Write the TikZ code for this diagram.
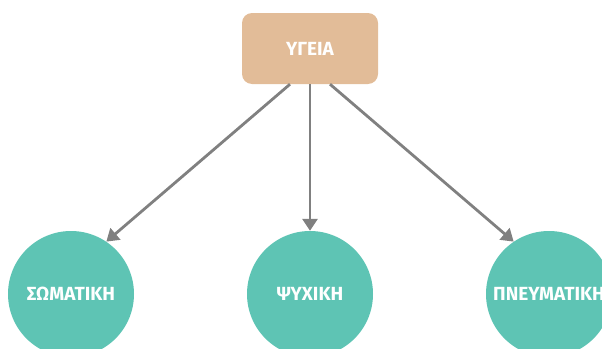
\documentclass[tikz,border=0pt]{standalone}
\usepackage{fontspec}
\setmainfont{Fira Sans}
\usetikzlibrary{arrows.meta}
\definecolor{boxtan}{HTML}{E2BC98}
\definecolor{circteal}{HTML}{5EC4B4}
\definecolor{arrowgray}{HTML}{808080}

\begin{document}
\begin{tikzpicture}[x=1pt,y=-1pt,
  topbox/.style={fill=boxtan, rounded corners=10pt, minimum width=136pt,
    minimum height=71pt, text=white, font=\bfseries\fontsize{19}{21}\selectfont},
  leaf/.style={circle, fill=circteal, minimum size=126pt, inner sep=0pt,
    text=white, font=\bfseries\fontsize{19}{21}\selectfont},
  link/.style={draw=arrowgray, line width=2.8pt,
    -{Triangle[width=15pt,length=12pt]}}]
\useasboundingbox (0,0) rectangle (602,348);
\clip (0,0) rectangle (602,348);
\node[topbox] (health) at (310,48.5) {ΥΓΕΙΑ};
\node[leaf] (body) at (71,294) {ΣΩΜΑΤΙΚΗ};
\node[leaf] (mind) at (310,294) {ΨΥΧΙΚΗ};
\node[leaf] (spirit) at (549,294) {ΠΝΕΥΜΑΤΙΚΗ};
% arrows from the box
\draw[link] ([xshift=-20pt]health.south) -- (body.56);
\draw[link] (health.south) -- (mind.north);
\draw[link] ([xshift=20pt]health.south) -- (spirit.124);
\end{tikzpicture}
\end{document}
